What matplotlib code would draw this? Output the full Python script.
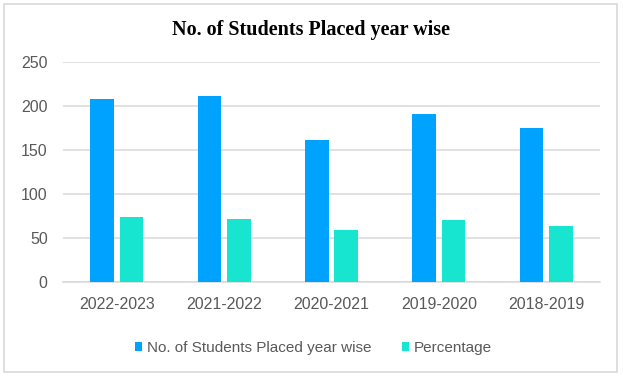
import matplotlib
matplotlib.use("Agg")
import matplotlib.pyplot as plt
import numpy as np
from matplotlib.patches import Rectangle

# data
years = ["2022-2023", "2021-2022", "2020-2021", "2019-2020", "2018-2019"]
students_placed = [208, 211, 161, 191, 175]
percentage = [74, 72, 59, 70, 64]

series_labels = ["No. of Students Placed year wise", "Percentage"]
blue = "#00A2FF"
teal = "#17E5CF"
text_gray = "#595959"
grid_gray = "#D9D9D9"

plt.rcParams["font.family"] = ["Liberation Sans", "DejaVu Sans"]

fig = plt.figure(figsize=(6.23, 3.77), dpi=100)
fig.patches.append(Rectangle((0.0064, 0.013), 0.9836, 0.976, transform=fig.transFigure,
                             fill=False, edgecolor=grid_gray, linewidth=1.2))

ax = fig.add_axes([0.101, 0.252, 0.862, 0.584])

x = np.arange(len(years))
w = 0.22
off = 0.137
ax.bar(x - off, students_placed, width=w, color=blue, label=series_labels[0], zorder=3)
ax.bar(x + off, percentage, width=w, color=teal, label=series_labels[1], zorder=3)

ax.set_xlim(-0.5, len(years) - 0.5)
ax.set_ylim(0, 250)
ax.set_yticks([0, 50, 100, 150, 200, 250])
ax.set_xticks(x)
ax.set_xticklabels(years)
ax.yaxis.grid(True, color=grid_gray, linewidth=1.1, zorder=0)
ax.set_axisbelow(True)
for s in ["top", "right", "left"]:
    ax.spines[s].set_visible(False)
ax.spines["bottom"].set_color(grid_gray)
ax.spines["bottom"].set_linewidth(1.1)
ax.tick_params(axis="both", length=0, colors=text_gray, labelsize=11.5)
ax.tick_params(axis="x", pad=11)
ax.tick_params(axis="y", pad=11)

fig.text(0.5, 0.920, "No. of Students Placed year wise", ha="center", va="center",
         fontsize=14.5, fontweight="bold", family="Liberation Serif", color="black")

fig.legend(loc="center", bbox_to_anchor=(0.503, 0.077), ncol=2, frameon=False,
           fontsize=11, labelcolor=text_gray, handlelength=0.5, handleheight=0.5,
           handletextpad=0.3, columnspacing=2.0)

fig.savefig("out.png", dpi=100)
